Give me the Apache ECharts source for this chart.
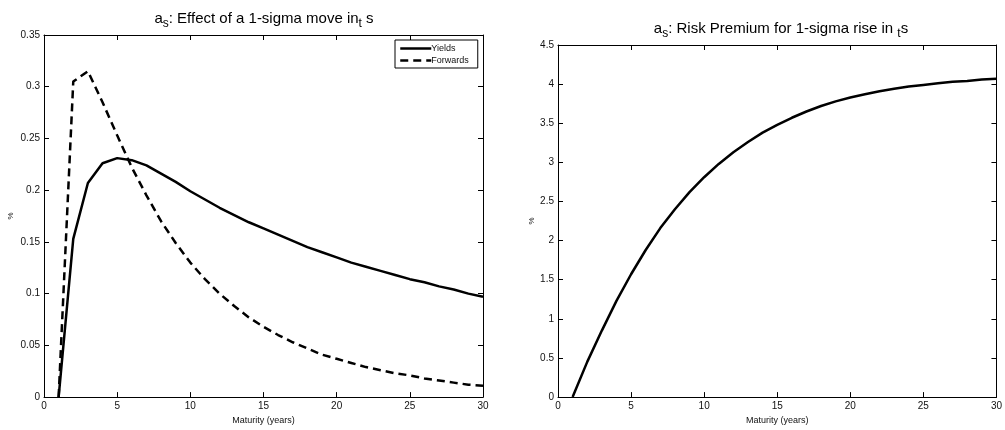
<!DOCTYPE html>
<html>
<head>
<meta charset="utf-8">
<script src="https://cdn.jsdelivr.net/npm/echarts@6/dist/echarts.min.js"></script>
<style>
  html, body { margin: 0; padding: 0; background: #fff; }
  #chart { width: 1005px; height: 430px; }
</style>
</head>
<body>
<div id="chart"></div>
<script>
// maturities in years
const maturities = [1, 2, 3, 4, 5, 6, 7, 8, 9, 10, 11, 12, 13, 14, 15,
  16, 17, 18, 19, 20, 21, 22, 23, 24, 25, 26, 27, 28, 29, 30];

// left panel: effect of a 1-sigma move
const yields = [0, 0.153, 0.207, 0.226, 0.231, 0.229, 0.224, 0.216, 0.208, 0.199,
  0.191, 0.183, 0.176, 0.169, 0.163, 0.157, 0.151, 0.145, 0.140, 0.135,
  0.130, 0.126, 0.122, 0.118, 0.114, 0.111, 0.107, 0.104, 0.100, 0.097];
const forwards = [0, 0.305, 0.315, 0.285, 0.253, 0.222, 0.195, 0.170, 0.149, 0.130,
  0.114, 0.100, 0.088, 0.077, 0.068, 0.060, 0.053, 0.047, 0.041, 0.037,
  0.033, 0.029, 0.026, 0.023, 0.021, 0.018, 0.016, 0.014, 0.012, 0.011];

// right panel: risk premium
const premium = [0, 0.45, 0.85, 1.23, 1.57, 1.88, 2.16, 2.40, 2.62, 2.81,
  2.98, 3.13, 3.26, 3.38, 3.48, 3.57, 3.65, 3.72, 3.78, 3.83,
  3.87, 3.91, 3.94, 3.97, 3.99, 4.01, 4.03, 4.04, 4.06, 4.07];

const xTicks = [0, 5, 10, 15, 20, 25, 30];
const leftTicks = [0, 0.05, 0.1, 0.15, 0.2, 0.25, 0.3, 0.35];
const rightTicks = [0, 0.5, 1, 1.5, 2, 2.5, 3, 3.5, 4, 4.5];

const zip = (xs, ys) => xs.map((x, i) => [x, ys[i]]);
const fmt = v => String(+v.toFixed(2));
const font = "Liberation Sans, Arial, sans-serif";

const tick = { show: true, inside: true, length: 5, lineStyle: { color: "#000", width: 1 } };
const line = { show: true, onZero: false, lineStyle: { color: "#000", width: 1 } };
const label = { fontSize: 10, color: "#111", fontFamily: font, margin: 4, formatter: fmt };

// bottom/top x axes, left/right y axes (box around each plot)
const xAx = (grid, pos, ticks) => ({
  type: "value", gridIndex: grid, position: pos,
  min: ticks[0], max: ticks[ticks.length - 1], interval: ticks[1] - ticks[0],
  axisLine: line, axisTick: tick, splitLine: { show: false },
  axisLabel: pos === "bottom" ? label : { show: false },
  name: pos === "bottom" ? "Maturity (years)" : "",
  nameLocation: "middle", nameGap: 16,
  nameTextStyle: { fontSize: 9, color: "#111", fontFamily: font },
});
const yAx = (grid, pos, ticks, gap) => ({
  type: "value", gridIndex: grid, position: pos,
  min: ticks[0], max: ticks[ticks.length - 1], interval: ticks[1] - ticks[0],
  axisLine: line, axisTick: tick, splitLine: { show: false },
  axisLabel: pos === "left" ? label : { show: false },
  name: pos === "left" ? "%" : "",
  nameLocation: "middle", nameGap: gap, nameRotate: 90,
  nameTextStyle: { fontSize: 8, color: "#111", fontFamily: font },
});

const rich = {
  sub: { fontSize: 12, fontFamily: font, fill: "#000", verticalAlign: "top", padding: [10, 0, 0, 0] },
};
const titleStyle = (x, y, text) => ({
  type: "text", x: x, y: y,
  style: {
    text: text, textAlign: "center", fill: "#000",
    fontSize: 15, fontFamily: font, rich: rich,
  },
});

const option = {
  animation: false,
  backgroundColor: "#fff",
  graphic: [
    titleStyle(264, 8, "a{sub|s}: Effect of a 1-sigma move in{sub|t} s"),
    titleStyle(781, 18, "a{sub|s}: Risk Premium for 1-sigma rise in {sub|t}s"),
  ],
  legend: {
    data: ["Yields", "Forwards"],
    orient: "vertical",
    left: 395, top: 40,
    backgroundColor: "#fff",
    borderColor: "#000", borderWidth: 1, borderRadius: 0,
    padding: [4, 9, 3, 4],
    itemGap: 3, itemWidth: 31, itemHeight: 8,
    itemStyle: { opacity: 0 },
    lineStyle: { width: 2.5 },
    textStyle: { fontSize: 9, color: "#111", fontFamily: font, padding: [0, 0, 0, -5] },
  },
  grid: [
    { left: 44, right: 522, top: 35, bottom: 30 },
    { left: 558, right: 3, top: 45, bottom: 30 },
  ],
  xAxis: [
    xAx(0, "bottom", xTicks), xAx(0, "top", xTicks),
    xAx(1, "bottom", xTicks), xAx(1, "top", xTicks),
  ],
  yAxis: [
    yAx(0, "left", leftTicks, 29), yAx(0, "right", leftTicks, 0),
    yAx(1, "left", rightTicks, 20), yAx(1, "right", rightTicks, 0),
  ],
  series: [
    {
      name: "Yields", type: "line", xAxisIndex: 0, yAxisIndex: 0,
      data: zip(maturities, yields), symbol: "none",
      lineStyle: { color: "#000", width: 2.5 }, itemStyle: { color: "#000" },
    },
    {
      name: "Forwards", type: "line", xAxisIndex: 0, yAxisIndex: 0,
      data: zip(maturities, forwards), symbol: "none",
      lineStyle: { color: "#000", width: 2.5, type: [8, 5] }, itemStyle: { color: "#000" },
    },
    {
      name: "Premium", type: "line", xAxisIndex: 2, yAxisIndex: 2,
      data: zip(maturities, premium), symbol: "none",
      lineStyle: { color: "#000", width: 2.5 }, itemStyle: { color: "#000" },
    },
  ],
};

const chart = echarts.init(document.getElementById("chart"));
chart.setOption(option);
</script>
</body>
</html>
